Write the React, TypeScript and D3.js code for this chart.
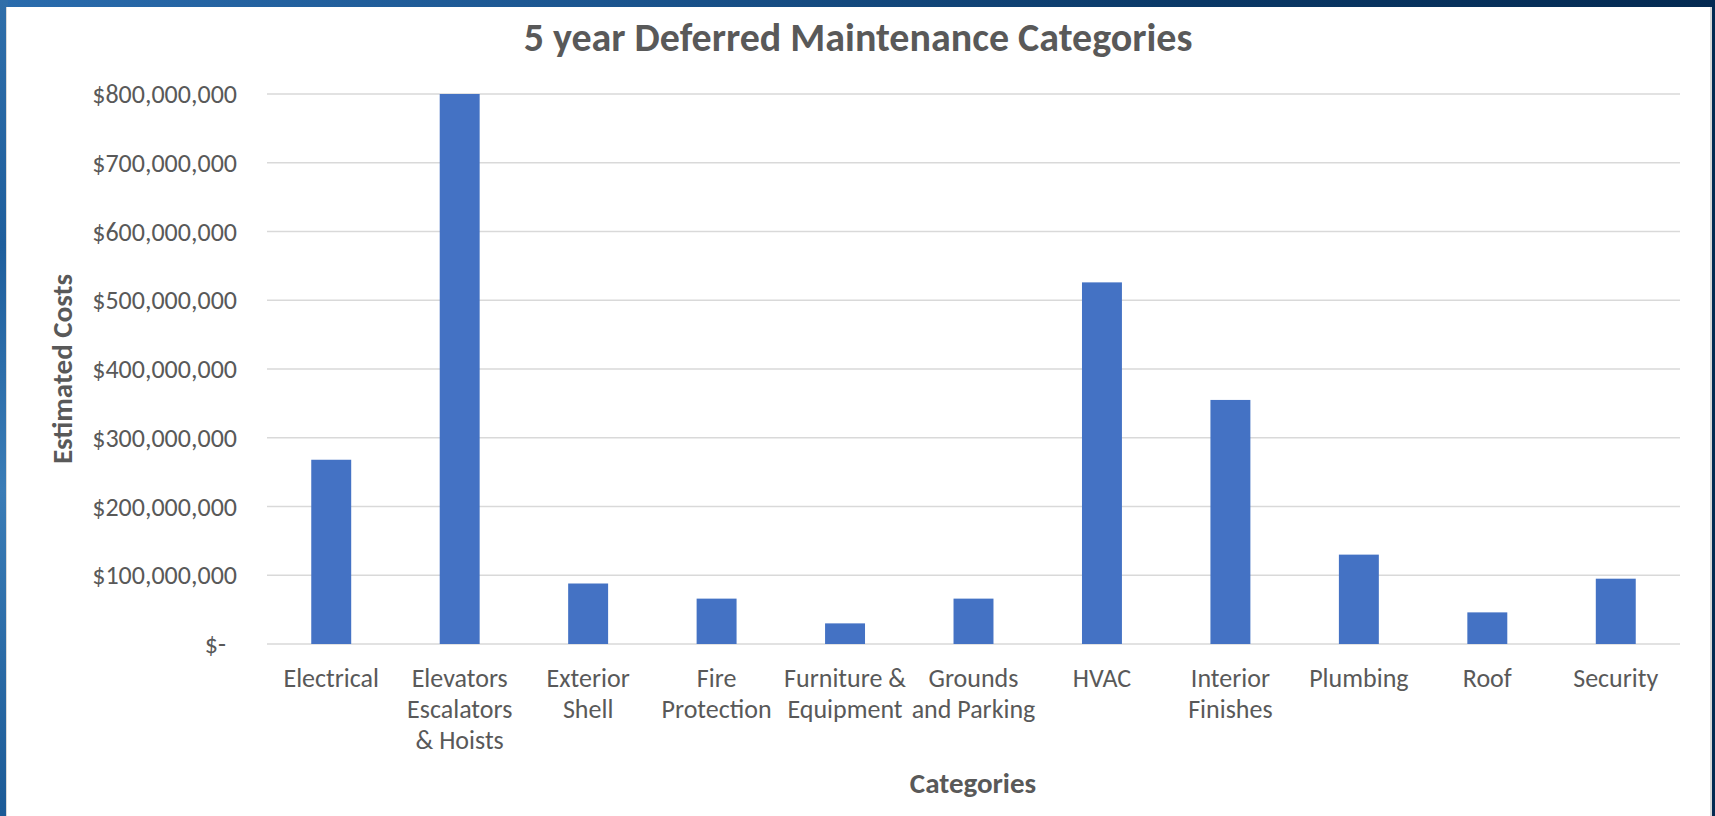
import React from "react";
import * as d3 from "d3";

const categories = [
  "Electrical",
  "Elevators Escalators & Hoists",
  "Exterior Shell",
  "Fire Protection",
  "Furniture & Equipment",
  "Grounds and Parking",
  "HVAC",
  "Interior Finishes",
  "Plumbing",
  "Roof",
  "Security",
];

const categoryLines = [
  ["Electrical"],
  ["Elevators", "Escalators", "& Hoists"],
  ["Exterior", "Shell"],
  ["Fire", "Protection"],
  ["Furniture &", "Equipment"],
  ["Grounds", "and Parking"],
  ["HVAC"],
  ["Interior", "Finishes"],
  ["Plumbing"],
  ["Roof"],
  ["Security"],
];

const costs = [
  268000000, 800000000, 88000000, 66000000, 30000000, 66000000,
  526000000, 355000000, 130000000, 46000000, 95000000,
];

const yTickValues = [0, 100e6, 200e6, 300e6, 400e6, 500e6, 600e6, 700e6, 800e6];

const titleText = "5 year Deferred Maintenance Categories";
const yTitle = "Estimated Costs";
const xTitle = "Categories";

const W = 1715;
const H = 816;
const FONT = "Calibri, Carlito, Lato, 'Open Sans', sans-serif";
const TEXT = "#595959";

export default function App() {
  const x = d3
    .scaleBand<string>()
    .domain(categories)
    .range([267, 1680])
    .paddingInner(0.689)
    .paddingOuter(0.3445);
  const y = d3.scaleLinear().domain([0, 800e6]).range([644, 94]);
  const fmt = (d: number) => (d === 0 ? "$-" : d3.format("$,")(d));

  return (
    <svg
      width={W}
      height={H}
      style={{ position: "absolute", left: 0, top: 0, display: "block" }}
    >
      <defs>
        <linearGradient id="bg" x1="0" y1="0" x2="1" y2="0">
          <stop offset="0" stopColor="#2a6cad" />
          <stop offset="0.35" stopColor="#1b558f" />
          <stop offset="0.7" stopColor="#0a3866" />
          <stop offset="1" stopColor="#042a52" />
        </linearGradient>
        <linearGradient id="left" x1="0" y1="0" x2="0" y2="1">
          <stop offset="0" stopColor="#2f6ea9" />
          <stop offset="0.3" stopColor="#1e5e9c" />
          <stop offset="0.6" stopColor="#3a7cb6" />
          <stop offset="1" stopColor="#1c5a96" />
        </linearGradient>
      </defs>
      <rect x={0} y={0} width={W} height={H} fill="url(#bg)" />
      <rect x={0} y={0} width={8} height={H} fill="url(#left)" />
      <rect x={6} y={7} width={1706} height={H} fill="#d9d9d9" />
      <rect x={7} y={7} width={1703} height={H} fill="#ffffff" />

      <text
        x={858}
        y={51}
        textAnchor="middle"
        fontFamily={FONT}
        fontWeight="bold"
        fontSize={40}
        fill={TEXT}
      >
        {titleText}
      </text>

      {yTickValues.map((t) => (
        <g key={t}>
          <line
            x1={267}
            x2={1680}
            y1={y(t)}
            y2={y(t)}
            stroke="#d9d9d9"
            strokeWidth={1.6}
          />
          <text
            x={t === 0 ? 226 : 237}
            y={y(t)}
            dy="0.35em"
            textAnchor="end"
            fontFamily={FONT}
            fontSize={26}
            fill={TEXT}
          >
            {fmt(t)}
          </text>
        </g>
      ))}

      {categories.map((c, i) => (
        <rect
          key={c}
          x={x(c)}
          width={x.bandwidth()}
          y={y(costs[i])}
          height={y(0) - y(costs[i])}
          fill="#4472c4"
        />
      ))}

      {categories.map((c, i) => (
        <text
          key={c}
          x={(x(c) as number) + x.bandwidth() / 2}
          y={687}
          textAnchor="middle"
          fontFamily={FONT}
          fontSize={26}
          fill={TEXT}
        >
          {categoryLines[i].map((ln, j) => (
            <tspan key={j} x={(x(c) as number) + x.bandwidth() / 2} dy={j === 0 ? 0 : 31}>
              {ln}
            </tspan>
          ))}
        </text>
      ))}

      <text
        x={973}
        y={793}
        textAnchor="middle"
        fontFamily={FONT}
        fontWeight="bold"
        fontSize={29}
        fill={TEXT}
      >
        {xTitle}
      </text>
      <text
        transform={`translate(72,369) rotate(-90)`}
        textAnchor="middle"
        fontFamily={FONT}
        fontWeight="bold"
        fontSize={29}
        fill={TEXT}
      >
        {yTitle}
      </text>
    </svg>
  );
}
